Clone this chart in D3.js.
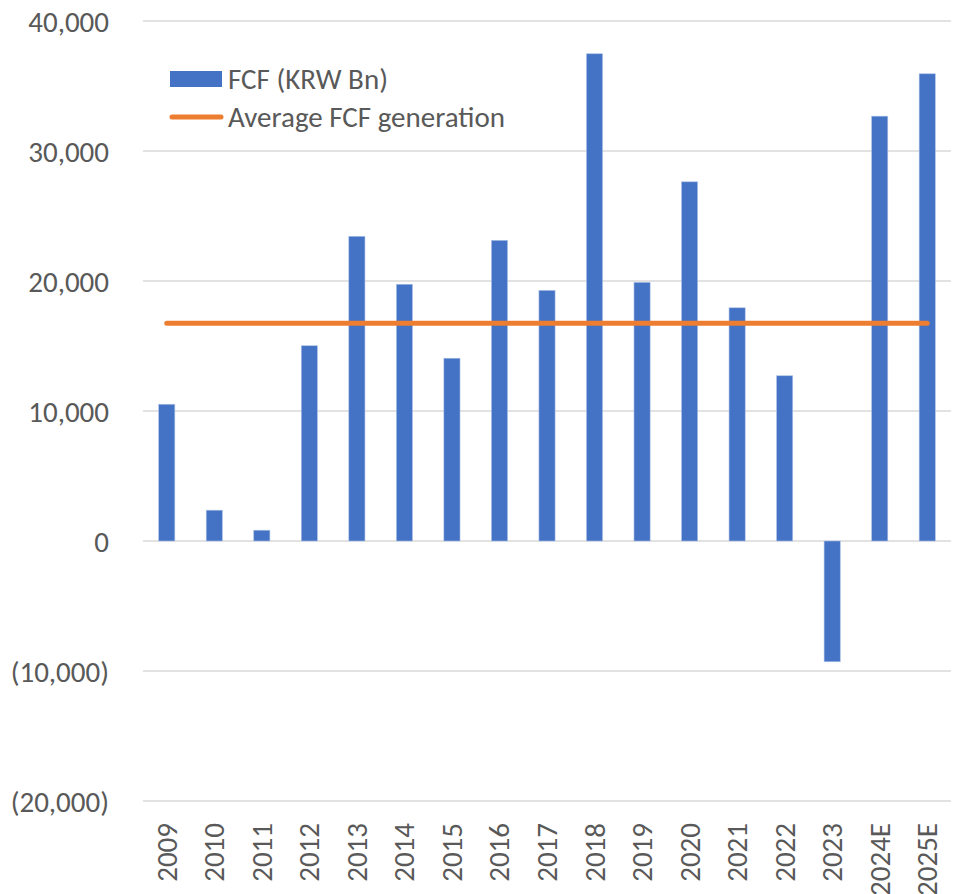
<!DOCTYPE html>
<html>
<head>
<meta charset="utf-8">
<script src="https://cdn.jsdelivr.net/npm/d3@7"></script>
<style>
  body { margin: 0; background: #fff; }
  svg text { font-family: Carlito, Calibri, Lato, sans-serif; fill: #595959; }
</style>
</head>
<body>
<div id="chart"></div>
<script>
// chart data
var years = ["2009", "2010", "2011", "2012", "2013", "2014", "2015", "2016", "2017",
    "2018", "2019", "2020", "2021", "2022", "2023", "2024E", "2025E"];
var fcf = [10520, 2370, 830, 15020, 23440, 19750, 14060, 23130, 19280,
    37480, 19900, 27630, 17940, 12710, -9290, 32680, 35940];
var avgFcf = [16750, 16750, 16750, 16750, 16750, 16750, 16750, 16750, 16750,
    16750, 16750, 16750, 16750, 16750, 16750, 16750, 16750];
var yTicks = [-20000, -10000, 0, 10000, 20000, 30000, 40000];
var legendNames = ["FCF (KRW Bn)", "Average FCF generation"];

var W = 957, H = 894;
// plot area edges
var plot = { left: 143, right: 951, top: 21, bottom: 801 };

var svg = d3.select("#chart").append("svg")
    .attr("width", W)
    .attr("height", H);

// scales
var x = d3.scaleBand()
    .domain(years)
    .range([plot.left, plot.right])
    .paddingInner(0.66)
    .paddingOuter(0.33);

var y = d3.scaleLinear()
    .domain([-20000, 40000])
    .range([plot.bottom, plot.top]);

var fmt = function (d) {
    var s = d3.format(",")(Math.abs(d));
    return d < 0 ? "(" + s + ")" : s;
};

// gridlines
svg.append("g")
    .selectAll("line")
    .data(yTicks)
    .enter()
    .append("line")
    .attr("x1", plot.left)
    .attr("x2", plot.right)
    .attr("y1", function (d) { return y(d); })
    .attr("y2", function (d) { return y(d); })
    .attr("stroke", "#d9d9d9")
    .attr("stroke-width", 1.5);

// y axis labels
var yAxis = svg.append("g")
    .attr("transform", "translate(" + (plot.left - 34) + ",0)")
    .call(d3.axisLeft(y).tickValues(yTicks).tickFormat(fmt).tickSize(0).tickPadding(0));
yAxis.select(".domain").remove();
yAxis.selectAll("text")
    .style("font-size", "29px")
    .style("font-family", "Carlito, Calibri, Lato, sans-serif")
    .attr("fill", "#595959")
    .attr("dy", "0.35em");

// x labels, rotated, under the lowest gridline
svg.append("g")
    .selectAll("text")
    .data(years)
    .enter()
    .append("text")
    .attr("transform", function (d) {
        return "translate(" + (x(d) + x.bandwidth() / 2 + 10) + "," + (plot.bottom + 22) + ") rotate(-90)";
    })
    .attr("text-anchor", "end")
    .style("font-size", "29px")
    .text(function (d) { return d; });

// bars
svg.append("g")
    .selectAll("rect")
    .data(fcf)
    .enter()
    .append("rect")
    .attr("x", function (d, i) { return x(years[i]); })
    .attr("y", function (d) { return y(Math.max(0, d)); })
    .attr("width", x.bandwidth())
    .attr("height", function (d) { return Math.abs(y(d) - y(0)); })
    .attr("fill", "#4472c4")
    .attr("stroke", "#aec3e8")
    .attr("stroke-width", 0.6);

// average line
var line = d3.line()
    .x(function (d, i) { return x(years[i]) + x.bandwidth() / 2; })
    .y(function (d) { return y(d); });

svg.append("path")
    .datum(avgFcf)
    .attr("d", line)
    .attr("fill", "none")
    .attr("stroke", "#ed7d31")
    .attr("stroke-width", 5)
    .attr("stroke-linecap", "round");

// legend
var lg = svg.append("g");
lg.append("rect")
    .attr("x", 170)
    .attr("y", 71)
    .attr("width", 52)
    .attr("height", 16)
    .attr("fill", "#4472c4");
lg.append("line")
    .attr("x1", 172)
    .attr("x2", 221)
    .attr("y1", 117)
    .attr("y2", 117)
    .attr("stroke", "#ed7d31")
    .attr("stroke-width", 5)
    .attr("stroke-linecap", "round");
lg.selectAll("text")
    .data(legendNames)
    .enter()
    .append("text")
    .attr("x", 228)
    .attr("y", function (d, i) { return 79 + i * 38; })
    .attr("dy", "0.35em")
    .style("font-size", "29px")
    .text(function (d) { return d; });
</script>
</body>
</html>
